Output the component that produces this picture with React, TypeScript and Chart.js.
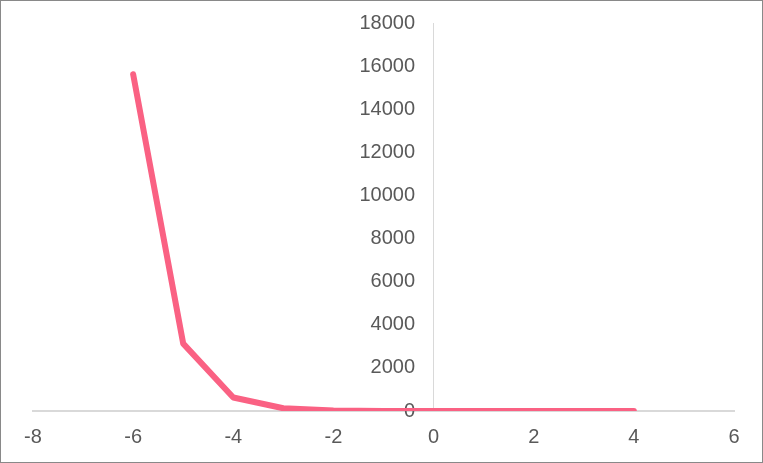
import React, { useEffect, useRef } from "react";
import { Chart, registerables } from "chart.js";

Chart.register(...registerables);

const xValues = [-6, -5, -4, -3, -2, -1, 0, 1, 2, 3, 4];
const yValues = [15625, 3125, 625, 125, 25, 5, 1, 0.2, 0.04, 0.008, 0.0016];

const xMin = -8;
const xMax = 6;
const xStep = 2;
const yMin = 0;
const yMax = 18000;
const yStep = 2000;

export default function App() {
  const ref = useRef<HTMLCanvasElement | null>(null);

  useEffect(() => {
    if (!ref.current) return;
    const data = xValues.map((x, i) => ({ x, y: yValues[i] }));
    const font = { family: "'Liberation Sans', Arial, sans-serif", size: 20 };
    const chart = new Chart(ref.current, {
      type: "scatter",
      data: {
        datasets: [
          {
            data,
            showLine: true,
            borderColor: "#FA6183",
            backgroundColor: "#FA6183",
            borderWidth: 6,
            borderCapStyle: "round",
            borderJoinStyle: "round",
            pointRadius: 0,
            tension: 0,
          },
        ],
      },
      options: {
        animation: false,
        responsive: false,
        maintainAspectRatio: false,
        layout: { padding: { left: 32, right: 28, top: 22, bottom: 51 } },
        plugins: { legend: { display: false }, tooltip: { enabled: false } },
        scales: {
          x: {
            type: "linear",
            position: { y: 0 },
            min: xMin,
            max: xMax,
            afterFit: (s: any) => {
              s.height = 0;
              s.paddingLeft = 0;
              s.paddingRight = 0;
              s.paddingTop = 0;
              s.paddingBottom = 0;
            },
            ticks: {
              stepSize: xStep,
              color: "#595959",
              font,
              padding: 14,
              callback: (v: any) => String(v),
            },
            grid: {
              display: true,
              drawOnChartArea: true,
              drawTicks: false,
              color: (ctx: any) =>
                ctx.tick && ctx.tick.value === 0 ? "#d9d9d9" : "rgba(0,0,0,0)",
              lineWidth: 1,
            },
            border: { display: true, color: "#d9d9d9", width: 2 },
          },
          y: {
            type: "linear",
            position: { x: -0.37 },
            min: yMin,
            max: yMax,
            afterFit: (s: any) => {
              s.width = 0;
              s.paddingLeft = 0;
              s.paddingRight = 0;
              s.paddingTop = 0;
              s.paddingBottom = 0;
            },
            ticks: {
              stepSize: yStep,
              color: "#595959",
              font,
              callback: (v: any) => String(v),
            },
            grid: { display: false },
            border: { display: false },
          },
        },
      },
    });
    return () => chart.destroy();
  }, []);

  return (
    <div
      style={{
        position: "fixed",
        left: 0,
        top: 0,
        width: 763,
        height: 463,
        boxSizing: "border-box",
        border: "1px solid #898989",
        background: "#fff",
        overflow: "hidden",
      }}
    >
      <canvas ref={ref} width={761} height={461} style={{ display: "block" }} />
    </div>
  );
}
